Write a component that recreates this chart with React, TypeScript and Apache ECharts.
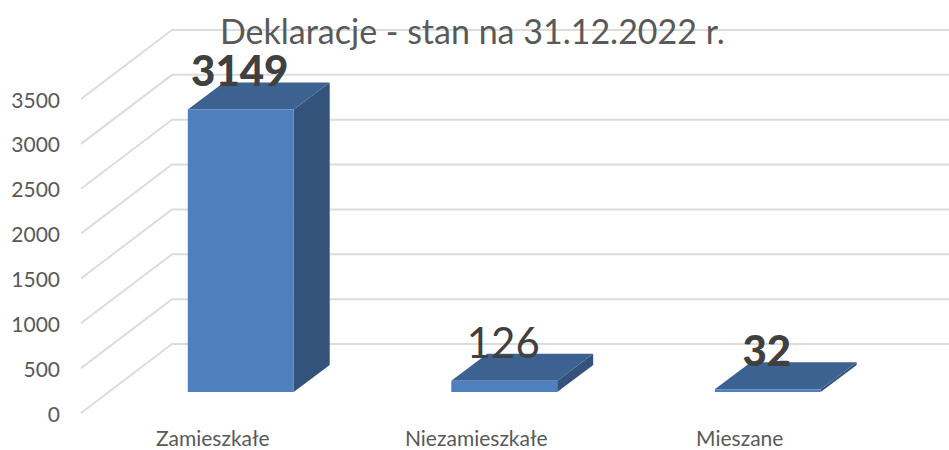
import React, { useEffect, useRef } from "react";
import * as echarts from "echarts";

const titleText = "Deklaracje - stan na 31.12.2022 r.";
const categories = ["Zamieszkałe", "Niezamieszkałe", "Mieszane"];
const values = [3149, 126, 32];
const boldLabels = [true, false, true];
const ticks = [0, 500, 1000, 1500, 2000, 2500, 3000, 3500];

const FONT = "Lato, 'Open Sans', sans-serif";
const DEPTH_X = 91;
const DEPTH_Y = 69;
const BAR_LIFT = 21;
const BAR_SHIFT = 28;
const BAR_DX = 36;
const BAR_DY = 27;

export default function App() {
  const ref = useRef<HTMLDivElement>(null);
  useEffect(() => {
    document.body.style.margin = "0";
    document.body.style.overflow = "hidden";
    const chart = echarts.init(ref.current!, null, { renderer: "svg", width: 949, height: 450 });
    chart.setOption({
      animation: false,
      backgroundColor: "#ffffff",
      title: {
        text: titleText,
        left: 215,
        top: 8,
        itemGap: 0,
        textStyle: { fontFamily: FONT, fontSize: 34, fontWeight: "normal", color: "#595959" },
      },
      grid: { left: 81, top: 99, width: 790.5, height: 314, outerBoundsMode: "none" },
      xAxis: {
        type: "category",
        data: categories,
        axisLine: { show: false },
        axisTick: { show: false },
        axisLabel: { margin: 16, lineHeight: 16, fontFamily: FONT, fontSize: 21, color: "#595959" },
      },
      yAxis: {
        type: "value",
        min: 0,
        max: 3500,
        interval: 500,
        splitLine: { show: false },
        axisLine: { show: false },
        axisTick: { show: false },
        axisLabel: {
          margin: 21,
          fontFamily: FONT,
          fontSize: 21,
          color: "#595959",
          padding: [0, 0, 2, 0],
          formatter: (v: number) => String(v),
        },
      },
      series: [
        {
          type: "custom",
          z: 1,
          silent: true,
          data: ticks.map((t) => [0, t]),
          encode: { x: 0, y: 1 },
          renderItem: (params: any, api: any) => {
            const y = api.coord([0, api.value(1)])[1];
            const x0 = params.coordSys.x;
            const x1 = x0 + params.coordSys.width + DEPTH_X;
            return {
              type: "polyline",
              shape: { points: [[x0, y], [x0 + DEPTH_X, y - DEPTH_Y], [x1, y - DEPTH_Y]] },
              style: { stroke: "#dcdcdc", lineWidth: 2, fill: "none" },
            };
          },
        },
        {
          type: "custom",
          z: 2,
          silent: true,
          data: values.map((v, i) => [i, v]),
          encode: { x: 0, y: 1 },
          renderItem: (_params: any, api: any) => {
            const i = api.value(0);
            const [cx, top0] = api.coord([i, api.value(1)]);
            const base0 = api.coord([i, 0])[1];
            const w = api.size([1, 0])[0] * 0.402;
            const l = cx + BAR_SHIFT - w / 2;
            const r = l + w;
            const top = top0 - BAR_LIFT;
            const base = base0 - BAR_LIFT;
            return {
              type: "group",
              children: [
                {
                  type: "polygon",
                  shape: { points: [[r, top], [r + BAR_DX, top - BAR_DY], [r + BAR_DX, base - BAR_DY], [r, base]] },
                  style: { fill: "#33537b" },
                },
                {
                  type: "polygon",
                  shape: { points: [[l, top], [l + BAR_DX, top - BAR_DY], [r + BAR_DX, top - BAR_DY], [r, top]] },
                  style: { fill: "#3b6290" },
                },
                {
                  type: "rect",
                  shape: { x: l, y: top, width: w, height: base - top },
                  style: { fill: "#4f7fbd" },
                },
                {
                  type: "text",
                  z2: 10,
                  style: {
                    x: cx + BAR_SHIFT - 1,
                    y: top - 39,
                    text: String(api.value(1)),
                    align: "center",
                    verticalAlign: "middle",
                    fontFamily: FONT,
                    fontSize: 42,
                    fontWeight: boldLabels[i] ? 900 : "normal",
                    fill: "#404040",
                  },
                },
              ],
            };
          },
        },
      ],
    });
    return () => chart.dispose();
  }, []);
  return <div ref={ref} style={{ width: 949, height: 450 }} />;
}
